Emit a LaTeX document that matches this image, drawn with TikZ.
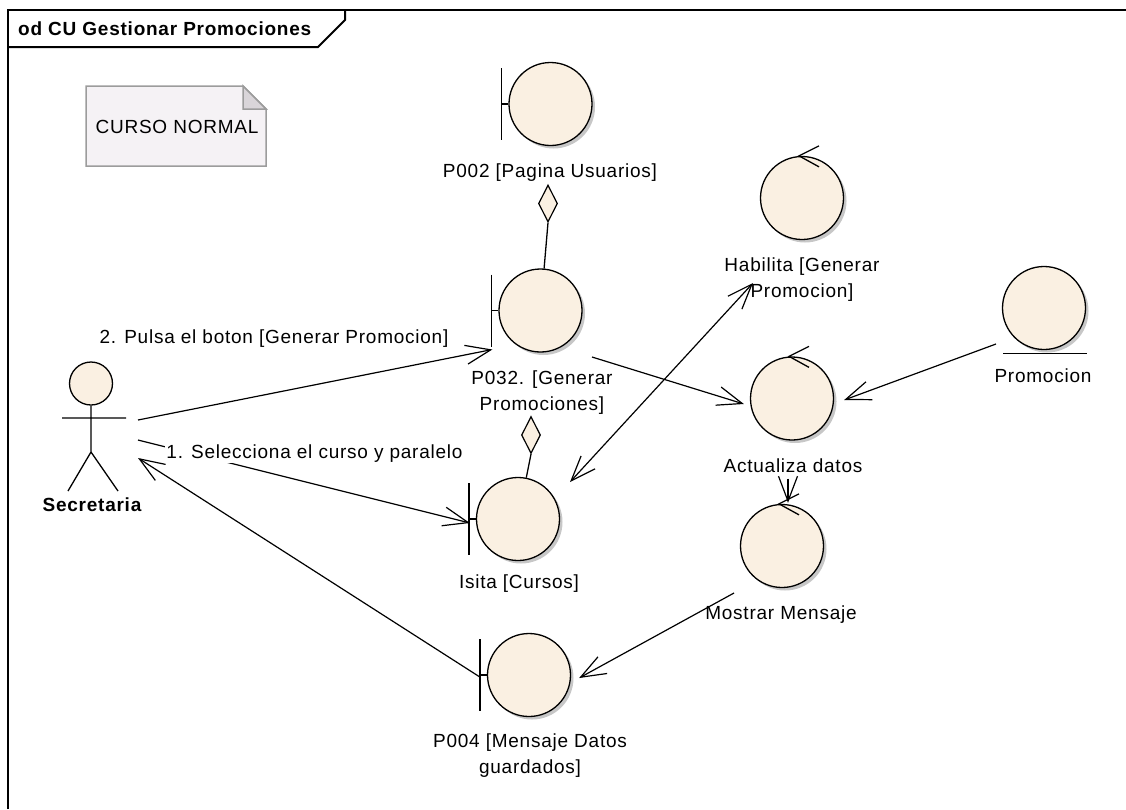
\documentclass[tikz,border=0pt]{standalone}
\usepackage{fontspec}
\setmainfont[LetterSpace=4]{Liberation Sans}
\usetikzlibrary{arrows.meta,shapes.geometric,shadows}
\definecolor{cream}{HTML}{FAF0E2}
\definecolor{notebg}{HTML}{F5F2F5}
\definecolor{notefold}{HTML}{D9D5D9}
\definecolor{noteline}{HTML}{9C9C9C}
\newcommand{\diafont}{\fontsize{19}{25.5}\selectfont}
\tikzset{
  obj/.style={circle, draw, fill=cream, line width=1.3pt, minimum size=83pt, inner sep=0pt,
    drop shadow={shadow xshift=3pt, shadow yshift=-3pt, fill=black!22, opacity=1}},
  lbl/.style={font=\diafont, align=center, inner sep=0pt, anchor=base},
  msg/.style={line width=1.2pt, -{Straight Barb[length=25pt,width=19pt]}},
  aggr/.style={diamond, draw, fill=cream, line width=1.2pt, minimum width=19pt, minimum height=37pt, inner sep=0pt}
}
\begin{document}
\begin{tikzpicture}[x=1pt, y=-1pt]
\useasboundingbox (0,0) rectangle (1126,809);
% frame
\draw[line width=2pt] (8,809) -- (8,10) -- (1126,10);
\draw[line width=2pt] (8,47) -- (318,47) -- (345,20) -- (345,10);
\node[lbl, anchor=base west, font=\diafont\bfseries] (title) at (18,35) {od CU Gestionar Promociones};
% note
\draw[noteline, line width=1.5pt, fill=notebg] (86,86) -- (243,86) -- (266,109) -- (266,166) -- (86,166) -- cycle;
\draw[noteline, line width=1.5pt, fill=notefold] (243,86) -- (243,109) -- (266,109) -- cycle;
\node[lbl, anchor=center] (note) at (177,127) {CURSO NORMAL};
% objects
\node[obj] (pag) at (550.5,104) {};
\node[obj] (gen) at (540.5,310.5) {};
\node[obj] (isi) at (518,519) {};
\node[obj] (msj) at (529,675) {};
\node[obj] (hab) at (802,198) {};
\node[obj] (act) at (792,398.5) {};
\node[obj] (mos) at (782,546) {};
\node[obj] (ent) at (1044,308) {};
% boundary bars
\foreach \n in {pag,gen,isi,msj}
  \draw[line width=1.3pt] ([xshift=-7pt]\n.west) ++(0,-36) -- ++(0,72)
    ([xshift=-7pt]\n.west) -- (\n.west);
% control marks
\foreach \n in {hab,act,mos}
  \draw[line width=1.3pt] ([xshift=17pt,yshift=10pt]\n.north) -- ([xshift=-3pt]\n.north)
    -- ([xshift=17pt,yshift=-11pt]\n.north);
% entity
\draw[line width=1.3pt] ([shift={(-41,3)}]ent.south) -- ([shift={(43,3)}]ent.south);
% actor
\node[circle, draw, fill=cream, line width=1.3pt, minimum size=43pt, inner sep=0pt] (sec) at (91,383.5) {};
\draw[line width=1.3pt] (sec.south) -- (91,452) -- (68,491) (91,452) -- (118,491) (62,418) -- (126,418);
\coordinate (a1) at (138,420);
\coordinate (a2) at (138,440);
\coordinate (a3) at (138,458);
% aggregations
\node[aggr] (ag1) at (548,203.5) {};
\node[aggr] (ag2) at (531,435) {};
\draw[line width=1.3pt] (ag1.south) -- (gen);
\draw[line width=1.3pt] (ag2.south) -- (isi);
% messages
\draw[msg] (a1) -- ([shift={(-6,39)}]gen.west);
\draw[msg] (a2) -- ([shift={(-6,4)}]isi.west);
\draw[msg] ([shift={(-7,2)}]msj.west) -- (a3);
\draw[msg] ([shift={(51.5,46.5)}]gen.center) -- ([shift={(-6,5.5)}]act.west);
\draw[msg, {Straight Barb[length=25pt,width=19pt]}-{Straight Barb[length=25pt,width=19pt]}]
  ([shift={(52,-37)}]isi.center) -- ([shift={(-49,85)}]hab.center);
\draw[msg] ([shift={(-48,36)}]ent.center) -- ([shift={(10,1.5)}]act.east);
\draw[msg] ([shift={(-4,80)}]act.center) -- ([shift={(6,-1)}]mos.north);
\draw[msg] ([shift={(-48,47)}]mos.center) -- ([shift={(8,3)}]msj.east);
% labels
\node[lbl] (pagl) at (550,177) {P002 [Pagina Usuarios]};
\node[lbl] (genl) at (542,410) {P032. [Generar\\Promociones]};
\node[lbl] (isil) at (519,588) {Isita [Cursos]};
\node[lbl] (msjl) at (530,773) {P004 [Mensaje Datos\\guardados]};
\node[lbl] (habl) at (802,297) {Habilita [Generar\\Promocion]};
\node[lbl] (actl) at (793,472) {Actualiza datos};
\node[lbl] (mosl) at (781,619) {Mostrar Mensaje};
\node[lbl] (entl) at (1043,382) {Promocion};
\node[lbl, font=\diafont\bfseries] (secl) at (92,511) {Secretaria};
\node[lbl] (m2) at (274,343) {2. Pulsa el boton [Generar Promocion]};
\node[lbl, fill=white, inner sep=1pt] (m1) at (314.5,458) {1. Selecciona el curso y paralelo};
\end{tikzpicture}
\end{document}
